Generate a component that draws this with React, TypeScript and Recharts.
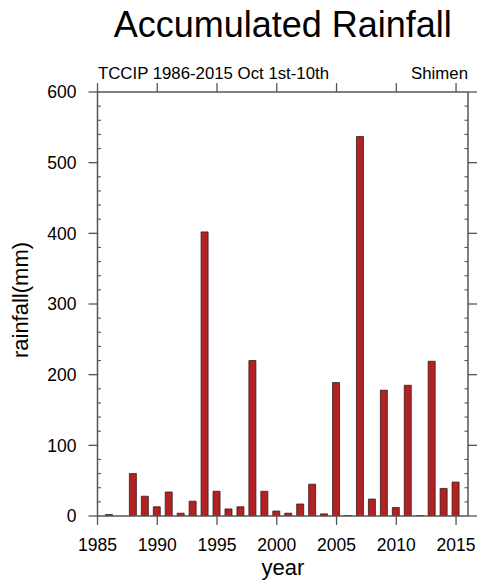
import React from 'react';
import { BarChart, Bar, XAxis, YAxis } from 'recharts';

const YEARS = [1986, 1987, 1988, 1989, 1990, 1991, 1992, 1993, 1994, 1995, 1996, 1997, 1998, 1999, 2000,
  2001, 2002, 2003, 2004, 2005, 2006, 2007, 2008, 2009, 2010, 2011, 2012, 2013, 2014, 2015];
const RAINFALL: (number | null)[] = [2, null, 60, 28, 13, 34, 4, 21, 402, 35, 10, 13, 220, 35, 7,
  4, 17, 45, 3, 189, 0.5, 537, 24, 178, 12, 185, 0.5, 219, 39, 48];

const X_TICKS = [1985, 1990, 1995, 2000, 2005, 2010, 2015];
const Y_MAJOR = [0, 100, 200, 300, 400, 500, 600];
const Y_MINOR = [20, 40, 60, 80, 120, 140, 160, 180, 220, 240, 260, 280, 320, 340, 360, 380,
  420, 440, 460, 480, 520, 540, 560, 580];
const Y_ALL = [...Y_MAJOR, ...Y_MINOR].sort((a, b) => a - b);

const TITLE = 'Accumulated Rainfall';
const SUB_LEFT = 'TCCIP 1986-2015 Oct 1st-10th';
const SUB_RIGHT = 'Shimen';
const X_LABEL = 'year';
const Y_LABEL = 'rainfall(mm)';

const data = YEARS.map((year, i) => ({ year, rainfall: RAINFALL[i] }));

const FONT = '"Liberation Sans", Arial, Helvetica, sans-serif';
const AXIS_COLOR = '#555';

const LeftTick = (props: any) => {
  const { x, y, payload } = props;
  const major = Y_MAJOR.includes(payload.value);
  return (
    <g>
      {major ? (
        <line x1={x - 9} x2={x} y1={y} y2={y} stroke={AXIS_COLOR} strokeWidth={1.3} />
      ) : (
        <line x1={x} x2={x + 3.5} y1={y} y2={y} stroke={AXIS_COLOR} strokeWidth={1.1} />
      )}
      {major && (
        <text x={x - 21} y={y} dy="0.36em" textAnchor="end" fontSize={17.5} fontFamily={FONT} fill="#000">
          {payload.value}
        </text>
      )}
    </g>
  );
};

const RightTick = (props: any) => {
  const { x, y, payload } = props;
  const major = Y_MAJOR.includes(payload.value);
  return (
    <g>
      {major ? (
        <line x1={x} x2={x + 9} y1={y} y2={y} stroke={AXIS_COLOR} strokeWidth={1.3} />
      ) : (
        <line x1={x - 3.5} x2={x} y1={y} y2={y} stroke={AXIS_COLOR} strokeWidth={1.1} />
      )}
    </g>
  );
};

const TopTick = (props: any) => {
  const { x, y } = props;
  return <line x1={x} x2={x} y1={y} y2={y - 9} stroke={AXIS_COLOR} strokeWidth={1.3} />;
};

export default function App() {
  return (
    <div style={{ position: 'absolute', left: 0, top: 0, width: 477, height: 585, background: '#fff' }}>
      <BarChart
        width={477}
        height={585}
        data={data}
        margin={{ top: 83, right: 0, bottom: 39, left: 0 }}
      >
        <XAxis
          xAxisId="b"
          type="number"
          dataKey="year"
          domain={[1985, 2016]}
          ticks={X_TICKS}
          interval={0}
          allowDataOverflow
          orientation="bottom"
          height={30}
          tickSize={9}
          tickMargin={14}
          axisLine={{ stroke: AXIS_COLOR, strokeWidth: 1.5 }}
          tickLine={{ stroke: AXIS_COLOR, strokeWidth: 1.3 }}
          tick={{ fill: '#000', fontSize: 17.5, fontFamily: FONT }}
        />
        <XAxis
          xAxisId="t"
          type="number"
          dataKey="year"
          domain={[1985, 2016]}
          ticks={X_TICKS}
          interval={0}
          allowDataOverflow
          orientation="top"
          height={9}
          tickSize={0}
          tickMargin={0}
          tickLine={false}
          tick={<TopTick />}
          axisLine={{ stroke: AXIS_COLOR, strokeWidth: 1.5 }}
        />
        <YAxis
          yAxisId="l"
          type="number"
          domain={[0, 600]}
          ticks={Y_ALL}
          interval={0}
          allowDataOverflow
          orientation="left"
          width={97.5}
          tickSize={0}
          tickMargin={0}
          tickLine={false}
          axisLine={{ stroke: AXIS_COLOR, strokeWidth: 1.5 }}
          tick={<LeftTick />}
        />
        <YAxis
          yAxisId="r"
          type="number"
          domain={[0, 600]}
          ticks={Y_ALL}
          interval={0}
          allowDataOverflow
          orientation="right"
          width={9}
          tickSize={0}
          tickMargin={0}
          tickLine={false}
          axisLine={{ stroke: AXIS_COLOR, strokeWidth: 1.5 }}
          tick={<RightTick />}
        />
        <Bar
          xAxisId="b"
          yAxisId="l"
          dataKey="rainfall"
          barSize={7}
          fill="#b22222"
          stroke="#3a1a1a"
          strokeWidth={0.8}
          isAnimationActive={false}
        />
      </BarChart>
      <svg
        width={477}
        height={585}
        style={{ position: 'absolute', left: 0, top: 0, pointerEvents: 'none' }}
        fontFamily={FONT}
      >
        <text x={282.75} y={37} textAnchor="middle" fontSize={36} fill="#000">{TITLE}</text>
        <text x={98} y={79} textAnchor="start" fontSize={16.8} fill="#000">{SUB_LEFT}</text>
        <text x={468} y={79} textAnchor="end" fontSize={16.8} fill="#000">{SUB_RIGHT}</text>
        <text x={283} y={575} textAnchor="middle" fontSize={22} fill="#000">{X_LABEL}</text>
        <text
          x={28}
          y={300}
          textAnchor="middle"
          fontSize={22}
          fill="#000"
          transform="rotate(-90 28 300)"
        >
          {Y_LABEL}
        </text>
      </svg>
    </div>
  );
}
